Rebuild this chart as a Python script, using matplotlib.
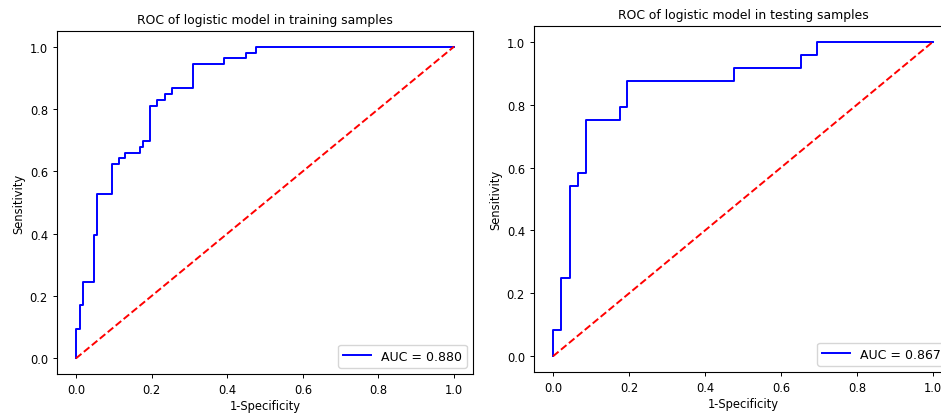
import matplotlib
matplotlib.use("Agg")
import matplotlib.pyplot as plt

# Training ROC (step points)
train_fpr = [0.0, 0.0, 0.010, 0.010, 0.019, 0.019, 0.047, 0.047, 0.056, 0.056,
             0.095, 0.095, 0.114, 0.114, 0.131, 0.131, 0.169, 0.169, 0.178, 0.178,
             0.196, 0.196, 0.215, 0.215, 0.235, 0.235, 0.253, 0.253, 0.310, 0.310,
             0.392, 0.392, 0.449, 0.449, 0.477, 0.477, 1.0]
train_tpr = [0.0, 0.094, 0.094, 0.170, 0.170, 0.245, 0.245, 0.396, 0.396, 0.528,
             0.528, 0.623, 0.623, 0.642, 0.642, 0.660, 0.660, 0.679, 0.679, 0.698,
             0.698, 0.811, 0.811, 0.830, 0.830, 0.849, 0.849, 0.868, 0.868, 0.943,
             0.943, 0.962, 0.962, 0.981, 0.981, 1.0, 1.0]
train_auc = 0.880

# Testing ROC
test_fpr = [0.0, 0.0, 0.022, 0.022, 0.046, 0.046, 0.067, 0.067, 0.088, 0.088,
            0.175, 0.175, 0.196, 0.196, 0.477, 0.477, 0.652, 0.652, 0.694, 0.694, 1.0]
test_tpr = [0.0, 0.083, 0.083, 0.250, 0.250, 0.542, 0.542, 0.583, 0.583, 0.750,
            0.750, 0.792, 0.792, 0.875, 0.875, 0.917, 0.917, 0.958, 0.958, 1.0, 1.0]
test_auc = 0.867

W, H = 941, 414
fig = plt.figure(figsize=(W / 100, H / 100), dpi=100)

def px_axes(x0, y0, x1, y1):
    return fig.add_axes([x0 / W, 1 - y1 / H, (x1 - x0) / W, (y1 - y0) / H])

ax1 = px_axes(57, 32, 473, 375)
ax2 = px_axes(534, 27, 952, 373)

fs_tick = 8.3
fs_lab = 8.3
fs_title = 8.9
fs_leg = 9.0

for ax, fpr, tpr, auc, title in [
    (ax1, train_fpr, train_tpr, train_auc, "ROC of logistic model in training samples"),
    (ax2, test_fpr, test_tpr, test_auc, "ROC of logistic model in testing samples"),
]:
    ax.plot(fpr, tpr, color="blue", lw=1.4, label="AUC = %0.3f" % auc)
    ax.plot([0, 1], [0, 1], color="red", ls="--", lw=1.4)
    ax.set_xlim(-0.05, 1.05)
    ax.set_ylim(-0.05, 1.05)
    ax.set_xticks([0, 0.2, 0.4, 0.6, 0.8, 1.0])
    ax.set_yticks([0, 0.2, 0.4, 0.6, 0.8, 1.0])
    ax.tick_params(labelsize=fs_tick, length=3, width=0.7)
    for s in ax.spines.values():
        s.set_linewidth(0.8)
    ax.set_xlabel("1-Specificity", fontsize=fs_lab, labelpad=2)
    ax.set_ylabel("Sensitivity", fontsize=fs_lab, labelpad=3)
    ax.set_title(title, fontsize=fs_title, pad=6)
    ax.legend(loc="lower right", fontsize=fs_leg, handlelength=2.2)

fig.savefig("out.png", dpi=100)
